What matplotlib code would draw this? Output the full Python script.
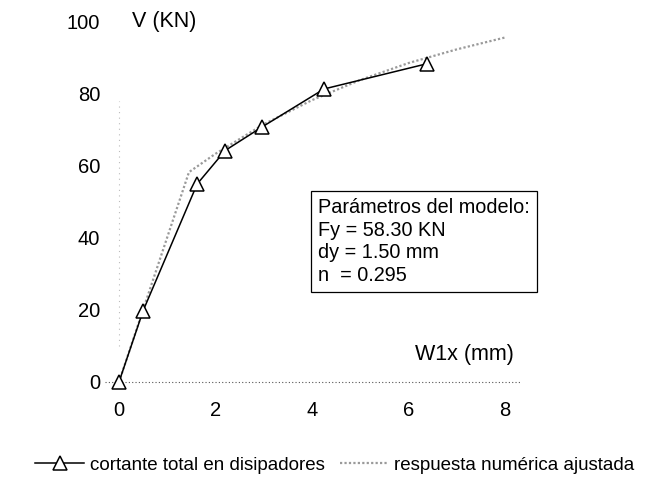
import matplotlib.pyplot as plt

plt.rcParams['font.family'] = ['Liberation Sans', 'DejaVu Sans']

w1x = [0.0, 0.50, 1.62, 2.20, 2.96, 4.25, 6.38]
v_total = [0.0, 19.8, 55.0, 64.3, 70.8, 81.4, 88.4]

# fitted numerical response
w1x_fit = [0.0, 1.45, 2.0, 3.0, 4.0, 5.0, 6.0, 7.0, 8.0]
v_fit = [0.0, 58.3, 63.4, 71.6, 78.3, 83.9, 88.6, 92.4, 95.7]

params = ["Parámetros del modelo:", "Fy = 58.30 KN", "dy = 1.50 mm", "n  = 0.295"]
label_total = "cortante total en disipadores"
label_fit = "respuesta numérica ajustada"

fig = plt.figure(figsize=(6.5, 4.9), dpi=100)
ax = fig.add_axes([0.1608, 0.1984, 0.6385, 0.7714])

ax.axhline(0, color='#555555', linestyle=(0, (1, 2)), linewidth=0.8, zorder=1)
ax.plot([0, 0], [10, 78], color='#bbbbbb', linestyle=(0, (1, 4)), linewidth=0.8, zorder=1)

l1, = ax.plot(w1x, v_total, 'k-', linewidth=1.1, marker='^', markersize=9.5,
              markerfacecolor='white', markeredgecolor='black', markeredgewidth=1.1,
              clip_on=False, zorder=3, label=label_total)
l2, = ax.plot(w1x_fit, v_fit, color='#9a9a9a', linestyle=(0, (1, 1)), linewidth=1.6,
              zorder=2, label=label_fit)

ax.set_xlim(-0.3, 8.3)
ax.set_ylim(-3, 102)
ax.set_xticks([0, 2, 4, 6, 8])
ax.set_yticks([0, 20, 40, 60, 80, 100])
ax.tick_params(length=0, labelsize=14.5)
ax.tick_params(axis='y', pad=3)
ax.tick_params(axis='x', pad=6)
for s in ax.spines.values():
    s.set_visible(False)

ax.text(0.27, 100, "V (KN)", fontsize=15.5, va='center', ha='left')
ax.text(6.13, 7.5, "W1x (mm)", fontsize=15.5, va='center', ha='left')

ax.text(4.12, 39.0, "\n".join(params), fontsize=14.3, va='center', ha='left',
        linespacing=1.25,
        bbox=dict(boxstyle='square,pad=0.35', facecolor='white', edgecolor='black', linewidth=0.9))

fig.legend(handles=[l1, l2], loc='center', bbox_to_anchor=(0.515, 0.051), ncol=2,
           frameon=False, fontsize=13.5, handlelength=2.6, columnspacing=0.8,
           handletextpad=0.3)

fig.savefig('out.png', dpi=100)
